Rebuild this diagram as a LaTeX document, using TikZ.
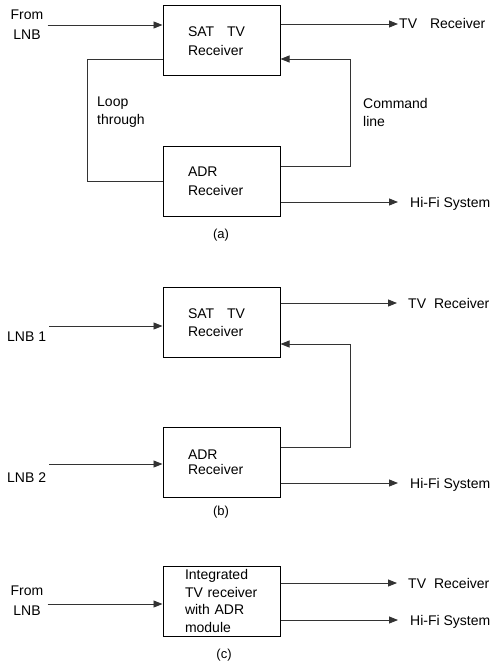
\documentclass[tikz,border=0pt]{standalone}
\usepackage{fontspec}
\setmainfont{Liberation Sans}
\usetikzlibrary{arrows.meta,positioning,calc}

\begin{document}
\begin{tikzpicture}[x=1pt,y=-1pt,>={Triangle[length=9pt,width=7pt]},
  box/.style={draw,line width=1pt,minimum width=117pt,minimum height=70pt,inner sep=0pt,align=left,text width=67pt},
  txt/.style={inner sep=1pt,text=black,font=\fontsize{14}{17}\selectfont},
  outlbl/.style={txt,anchor=west,text height=10pt,text depth=0pt},
  wire/.style={line width=0.8pt,black!80},
  capt/.style={txt,font=\fontsize{13}{15}\selectfont}]
\useasboundingbox (0,0) rectangle (494,663);

% (a)
\node[box,font=\fontsize{14}{19}\selectfont] (satA) at (221.5,41) {SAT\hspace{13pt}TV\\Receiver};
\node[box,font=\fontsize{14}{19}\selectfont] (adrA) at (221.5,181.5) {ADR\\Receiver};
\node[txt,align=center,font=\fontsize{14}{20}\selectfont] (fromA) at (27,25) {From\\LNB};
\node[outlbl] (tvA) at (398,24) {TV\hspace{13pt}Receiver};
\node[outlbl] (hifiA) at (409,202) {Hi-Fi System};
\node[txt,anchor=west,align=left,font=\fontsize{14}{18}\selectfont] (loopA) at (96,112) {Loop\\through};
\node[txt,anchor=west,align=left,font=\fontsize{14}{18}\selectfont] (cmdA) at (362,112) {Command\\line};
\node[capt] (capA) at (221,235) {(a)};
\draw[wire,->] ([xshift=3pt]fromA.east) -- (fromA.east -| satA.west);
\draw[wire,->] (satA.east |- tvA) -- (tvA.west);
\draw[wire,->,shorten >=11pt] (adrA.east |- hifiA) -- (hifiA.west);
\draw[wire] ([yshift=-18pt]satA.west) -- ++(-75,0) |- (adrA.west);
\draw[wire,->] ([yshift=15.5pt]adrA.east) -- ++(70,0) |- ([yshift=-18pt]satA.east);

% (b)
\node[box,font=\fontsize{14}{18}\selectfont] (satB) at (221.5,322.5) {SAT\hspace{13pt}TV\\Receiver};
\node[box,font=\fontsize{14}{15}\selectfont] (adrB) at (221.5,462.5) {ADR\\Receiver};
\node[txt,anchor=west] (lnbB1) at (6,337) {LNB 1};
\node[txt,anchor=west] (lnbB2) at (6,478) {LNB 2};
\node[outlbl] (tvB) at (407,303) {TV\hspace{8pt}Receiver};
\node[outlbl] (hifiB) at (409,483) {Hi-Fi System};
\node[capt] (capB) at (221,512) {(b)};
\draw[wire,->] ([xshift=2pt,yshift=11pt]lnbB1.east) -- ([yshift=11pt]lnbB1.east -| satB.west);
\draw[wire,->] ([xshift=2pt,yshift=14pt]lnbB2.east) -- ([yshift=14pt]lnbB2.east -| adrB.west);
\draw[wire,->,shorten >=10pt] (satB.east |- tvB) -- (tvB.west);
\draw[wire,->,shorten >=11pt] (adrB.east |- hifiB) -- (hifiB.west);
\draw[wire,->] ([yshift=15.5pt]adrB.east) -- ++(70,0) |- ([yshift=-21.5pt]satB.east);

% (c)
\node[box,text width=73pt,font=\fontsize{14}{17.5}\selectfont] (intC) at (221.5,601) {Integrated\\TV receiver\\with ADR\\module};
\node[txt,align=center,font=\fontsize{14}{20}\selectfont] (fromC) at (27,601) {From\\LNB};
\node[outlbl] (tvC) at (407,583) {TV\hspace{8pt}Receiver};
\node[outlbl] (hifiC) at (409,620) {Hi-Fi System};
\node[capt] (capC) at (224,655) {(c)};
\draw[wire,->] ([xshift=3pt,yshift=-3pt]fromC.east) -- ([yshift=-3pt]fromC.east -| intC.west);
\draw[wire,->,shorten >=10pt] (intC.east |- tvC) -- (tvC.west);
\draw[wire,->,shorten >=11pt] (intC.east |- hifiC) -- (hifiC.west);
\end{tikzpicture}
\end{document}
